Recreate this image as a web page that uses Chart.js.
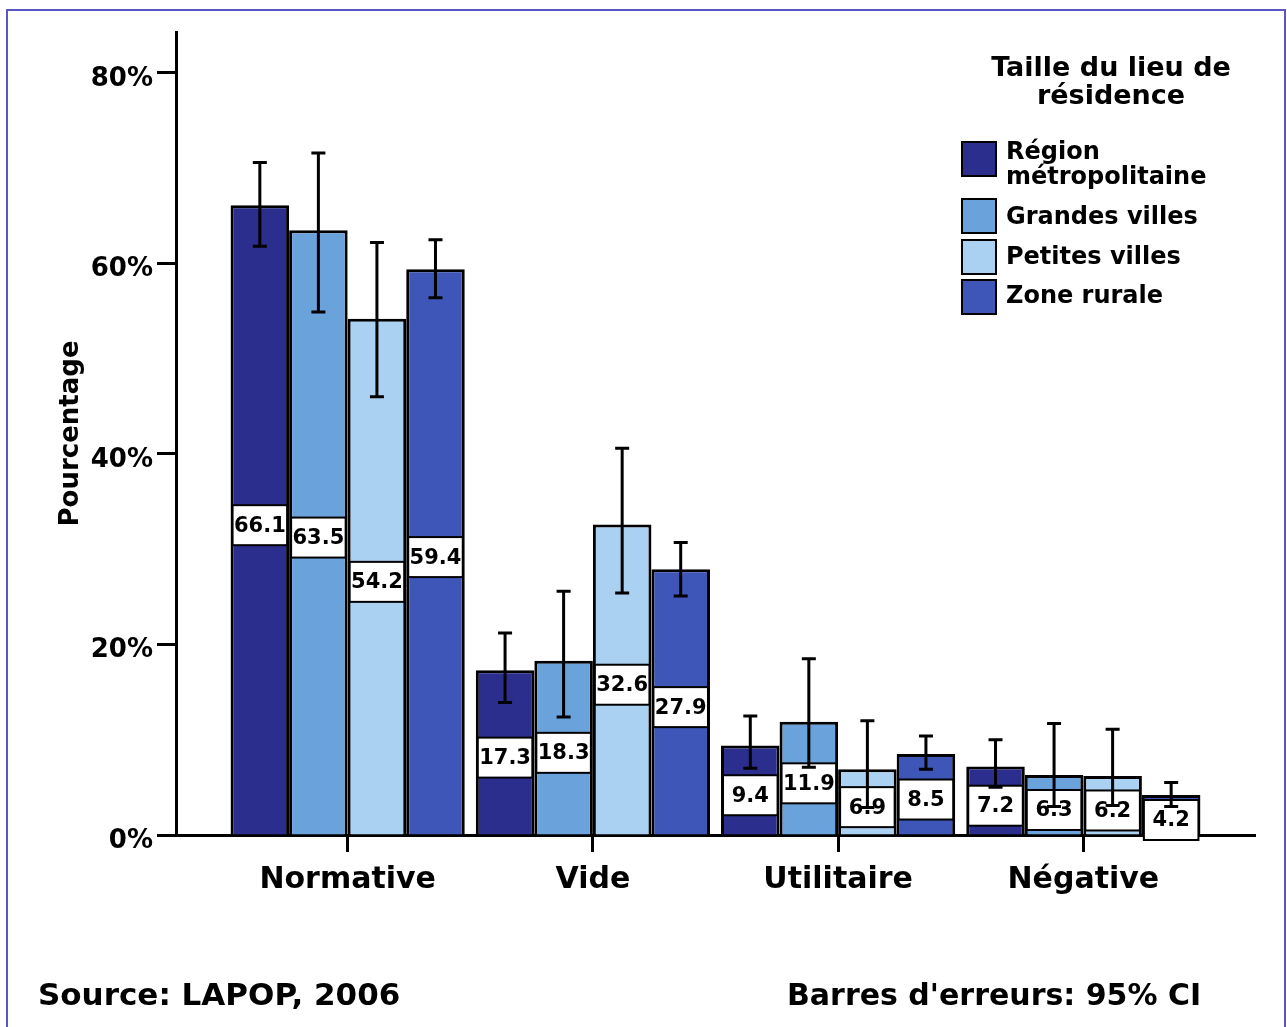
<!DOCTYPE html>
<html>
<head>
<meta charset="utf-8">
<script src="https://cdn.jsdelivr.net/npm/chart.js@4/dist/chart.umd.min.js"></script>
<style>
html,body{margin:0;padding:0;background:#fff;overflow:hidden}
#wrap{position:relative;width:1287px;height:1027px}
#frame{position:absolute;left:6px;top:9px;width:1280px;height:1100px;border:2px solid #5a55c0;box-sizing:border-box;pointer-events:none}
canvas{position:absolute;left:0;top:0}
</style>
</head>
<body>
<div id="wrap"><canvas id="c" width="1287" height="1027"></canvas><div id="frame"></div></div>
<script>
// ---- Data ----
const categories = ['Normative', 'Vide', 'Utilitaire', 'Négative'];
const seriesNames = ['Région métropolitaine', 'Grandes villes', 'Petites villes', 'Zone rurale'];
const legendLines = [['Région', 'métropolitaine'], ['Grandes villes'], ['Petites villes'], ['Zone rurale']];

const regionValues  = [66.1, 17.3, 9.4, 7.2];
const grandesValues = [63.5, 18.3, 11.9, 6.3];
const petitesValues = [54.2, 32.6, 6.9, 6.2];
const ruraleValues  = [59.4, 27.9, 8.5, 4.2];

const regionLow   = [61.8, 13.9, 7.0, 5.0];
const regionHigh  = [70.6, 21.2, 12.5, 10.0];
const grandesLow  = [54.9, 12.4, 7.1, 3.0];
const grandesHigh = [71.6, 25.6, 18.5, 11.7];
const petitesLow  = [46.0, 25.4, 2.9, 3.1];
const petitesHigh = [62.2, 40.6, 12.0, 11.1];
const ruraleLow   = [56.4, 25.1, 6.9, 3.0];
const ruraleHigh  = [62.5, 30.7, 10.4, 5.5];

const yTicks = [0, 20, 40, 60, 80];
const legendTitle = ['Taille du lieu de', 'résidence'];
const sourceText = 'Source: LAPOP, 2006';
const errorNote = "Barres d'erreurs: 95% CI";

// ---- Styling ----
const FONT = "'DejaVu Sans', 'Liberation Sans', sans-serif";
Chart.defaults.font.family = FONT;
Chart.defaults.font.weight = 'bold';
Chart.defaults.color = '#000';

const colors = ['#2b2e8c', '#6aa2dc', '#aad0f2', '#3d56b8'];
const allValues = [regionValues, grandesValues, petitesValues, ruraleValues];
const allLows = [regionLow, grandesLow, petitesLow, ruraleLow];
const allHighs = [regionHigh, grandesHigh, petitesHigh, ruraleHigh];

const datasets = allValues.map((vals, s) => ({
  label: seriesNames[s],
  data: vals.map((v, i) => ({ x: i, y: v })),
  lows: allLows[s],
  highs: allHighs[s],
  backgroundColor: colors[s],
  borderColor: '#000',
  borderWidth: 3,
  borderSkipped: 'bottom',
  categoryPercentage: 0.955,
  barPercentage: 1.0
}));

const overlay = {
  id: 'overlay',
  afterDatasetsDraw(chart) {
    const ctx = chart.ctx;
    const ys = chart.scales.y;
    // value boxes
    chart.data.datasets.forEach((ds, s) => {
      const meta = chart.getDatasetMeta(s);
      meta.data.forEach((bar, i) => {
        const v = ds.data[i].y;
        const w = bar.width - 4;
        const h = 40;
        const cy = ys.getPixelForValue(v / 2) + 5;
        ctx.save();
        ctx.fillStyle = '#fff';
        ctx.fillRect(bar.x - w / 2, cy - h / 2, w, h);
        ctx.strokeStyle = '#000';
        ctx.lineWidth = 2;
        ctx.strokeRect(bar.x - w / 2, cy - h / 2, w, h);
        ctx.fillStyle = '#000';
        ctx.font = 'bold 21px ' + FONT;
        ctx.textAlign = 'center';
        ctx.textBaseline = 'middle';
        ctx.fillText(v.toFixed(1), bar.x, cy + 1);
        ctx.restore();
      });
    });
    // error bars
    chart.data.datasets.forEach((ds, s) => {
      const meta = chart.getDatasetMeta(s);
      meta.data.forEach((bar, i) => {
        const yl = ys.getPixelForValue(ds.lows[i]);
        const yh = ys.getPixelForValue(ds.highs[i]);
        ctx.save();
        ctx.strokeStyle = '#000';
        ctx.lineWidth = 3;
        ctx.beginPath();
        ctx.moveTo(bar.x, yl); ctx.lineTo(bar.x, yh);
        ctx.moveTo(bar.x - 7, yl); ctx.lineTo(bar.x + 7, yl);
        ctx.moveTo(bar.x - 7, yh); ctx.lineTo(bar.x + 7, yh);
        ctx.stroke();
        ctx.restore();
      });
    });
  },
  afterDraw(chart) {
    const ctx = chart.ctx;
    ctx.save();
    ctx.fillStyle = '#000';
    ctx.textBaseline = 'middle';
    // legend title
    ctx.font = 'bold 27px ' + FONT;
    ctx.textAlign = 'center';
    ctx.fillText(legendTitle[0], 1111, 69);
    ctx.fillText(legendTitle[1], 1111, 97);
    // legend items
    const boxTops = [142, 199, 240, 280];
    const textY = [[153, 178], [218], [258], [297]];
    ctx.font = 'bold 24px ' + FONT;
    ctx.textAlign = 'left';
    legendLines.forEach((lines, s) => {
      ctx.fillStyle = colors[s];
      ctx.fillRect(962, boxTops[s], 34, 34);
      ctx.strokeStyle = '#000';
      ctx.lineWidth = 2;
      ctx.strokeRect(962, boxTops[s], 34, 34);
      ctx.fillStyle = '#000';
      lines.forEach((ln, k) => ctx.fillText(ln, 1006, textY[s][k]));
    });
    // footer
    ctx.font = 'bold 31px ' + FONT;
    ctx.fillText(sourceText, 38, 997);
    ctx.font = 'bold 30px ' + FONT;
    ctx.fillText(errorNote, 787, 997);
    ctx.restore();
  }
};

new Chart(document.getElementById('c'), {
  type: 'bar',
  data: { datasets },
  options: {
    responsive: false,
    animation: false,
    events: [],
    layout: { padding: { top: 32, right: 32, left: 0, bottom: 0 } },
    plugins: { legend: { display: false }, tooltip: { enabled: false }, title: { display: false } },
    scales: {
      x: {
        type: 'linear',
        offset: false,
        min: -0.7,
        max: 3.7,
        afterBuildTicks: s => { s.ticks = categories.map((_, i) => ({ value: i })); },
        afterFit: s => { s.height = 192; },
        ticks: {
          callback: (v, i) => categories[i],
          font: { size: 30, weight: 'bold' },
          color: '#000',
          padding: 10,
          autoSkip: false,
          maxRotation: 0
        },
        grid: { display: true, offset: false, drawOnChartArea: false, drawTicks: true, tickLength: 17, tickWidth: 3, tickColor: '#000' },
        border: { display: true, color: '#000', width: 3 }
      },
      y: {
        min: 0,
        max: 84.3,
        afterBuildTicks: s => { s.ticks = yTicks.map(v => ({ value: v })); },
        afterFit: s => { s.width = 176; },
        ticks: {
          callback: v => v + '%',
          font: { size: 26, weight: 'bold' },
          color: '#000',
          padding: 4,
          labelOffset: 6
        },
        grid: { display: true, drawOnChartArea: false, drawTicks: true, tickLength: 19, tickWidth: 3, tickColor: '#000' },
        border: { display: true, color: '#000', width: 3 },
        title: {
          display: true,
          text: 'Pourcentage',
          font: { size: 26, weight: 'bold' },
          color: '#000',
          padding: { top: 56, bottom: 0 }
        }
      }
    }
  },
  plugins: [overlay]
});
</script>
</body>
</html>
